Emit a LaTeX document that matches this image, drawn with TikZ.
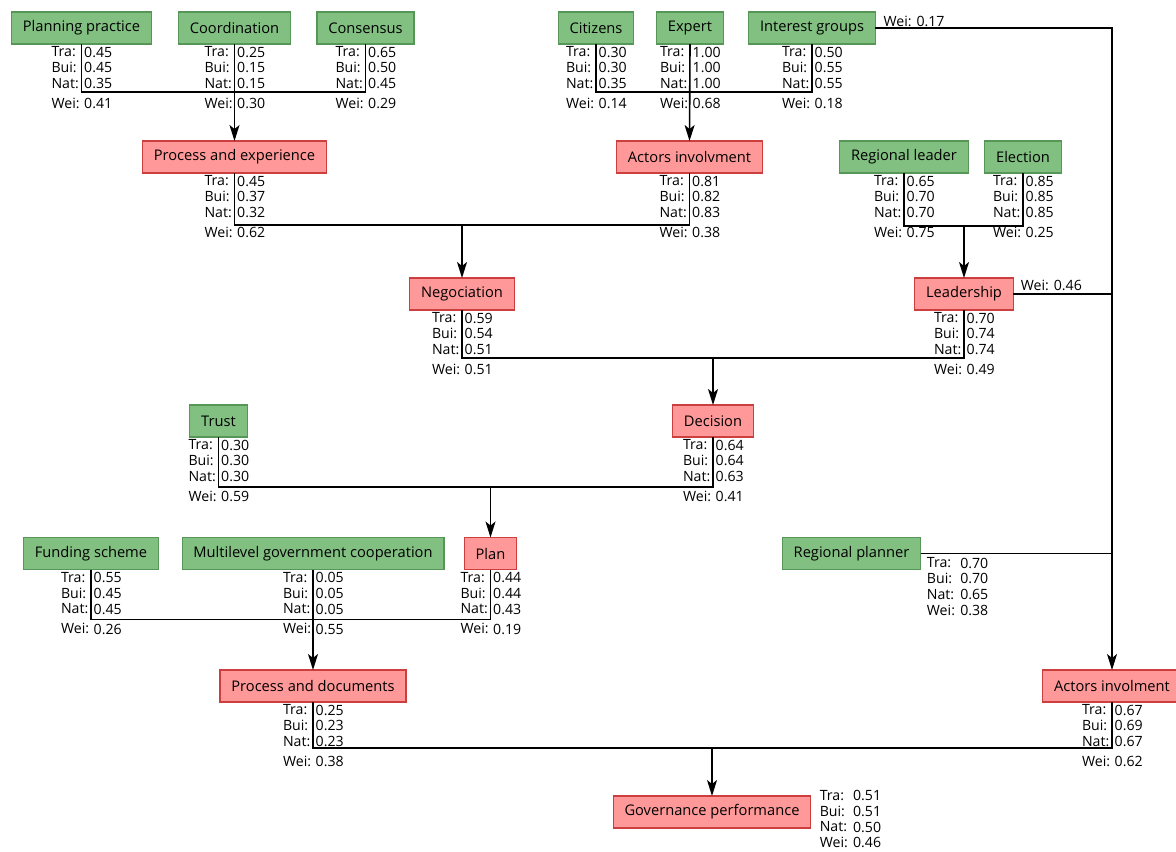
\documentclass[tikz,border=0pt]{standalone}
\usepackage{fontspec}
\setmainfont{Open Sans}
\usepackage{tikz}
\usetikzlibrary{arrows.meta,positioning,calc}
\definecolor{factfill}{RGB}{130,192,130}
\definecolor{factdraw}{RGB}{86,150,86}
\definecolor{resfill}{RGB}{255,152,152}
\definecolor{resdraw}{RGB}{205,62,62}

% score columns under a box: labels left of the connector, values right of it
\newcommand{\scores}[5]{%
  \node[num,anchor=north east] (#1-lb) at ([xshift=-1.2pt,yshift=-1.9pt]#1.south) {Tra:\\Bui:\\Nat:\\[3.2pt]Wei:};
  \node[num,anchor=north west] (#1-vl) at ([xshift=1.8pt,yshift=-1.9pt]#1.south) {#2\\#3\\#4\\[3.2pt]#5};}
% score columns beside a box
\newcommand{\sidescores}[6]{%
  \node[num,anchor=north west] (#1-lb) at #2 {Tra:\\Bui:\\Nat:\\Wei:};
  \node[num,anchor=north west] (#1-vl) at ([xshift=25pt]#1-lb.north west) {#3\\#4\\#5\\#6};}

\begin{document}
\begin{tikzpicture}[x=0.75pt,y=-0.75pt,
    fact/.style={rectangle,draw=factdraw,fill=factfill,line width=0.9pt,
      minimum height=24pt,inner xsep=8.5pt,outer sep=0pt,font=\fontsize{11}{13}\selectfont},
    res/.style={fact,draw=resdraw,fill=resfill},
    num/.style={inner sep=0pt,align=left,font=\fontsize{10.6}{11.8}\selectfont},
    wei/.style={inner sep=1pt,font=\fontsize{10.6}{11.8}\selectfont},
    a/.style={-{Stealth[length=12pt,width=7.5pt,inset=3pt]},line width=1.2pt},
    link/.style={line width=0.8pt}]
  \useasboundingbox (0,0) rectangle (1176,851);
  % inputs, first row
  \node[fact] (pp) at (81.5,28) {Planning practice};
  \node[fact] (co) at (234.5,28) {Coordination};
  \node[fact] (cs) at (365.5,28) {Consensus};
  \node[fact] (ci) at (596,28) {Citizens};
  \node[fact] (ex) at (690,28) {Expert};
  \node[fact] (ig) at (812,28) {Interest groups};
  % second row
  \node[res] (pe) at (234.5,157) {Process and experience};
  \node[res] (ai) at (689.5,157) {Actors involvment};
  \node[fact] (rl) at (904,157) {Regional leader};
  \node[fact] (el) at (1023,157) {Election};
  % third and fourth rows
  \node[res] (ne) at (462,294) {Negociation};
  \node[res] (le) at (964,294) {Leadership};
  \node[fact] (tr) at (218.5,421) {Trust};
  \node[res] (de) at (713,421) {Decision};
  % fifth row
  \node[fact] (fs) at (91,553.5) {Funding scheme};
  \node[fact] (mg) at (313,553.5) {Multilevel government cooperation};
  \node[res] (pl) at (490.5,553.5) {Plan};
  \node[fact] (rp) at (851.5,553.5) {Regional planner};
  % outputs
  \node[res] (pd) at (313,686) {Process and documents};
  \node[res] (ai2) at (1112,686) {Actors involment};
  \node[res] (gp) at (712,812) {Governance performance};

  \scores{pp}{0.45}{0.45}{0.35}{0.41}
  \scores{co}{0.25}{0.15}{0.15}{0.30}
  \scores{cs}{0.65}{0.50}{0.45}{0.29}
  \scores{ci}{0.30}{0.30}{0.35}{0.14}
  \scores{ex}{1.00}{1.00}{1.00}{0.68}
  \scores{ig}{0.50}{0.55}{0.55}{0.18}
  \scores{pe}{0.45}{0.37}{0.32}{0.62}
  \scores{ai}{0.81}{0.82}{0.83}{0.38}
  \scores{rl}{0.65}{0.70}{0.70}{0.75}
  \scores{el}{0.85}{0.85}{0.85}{0.25}
  \scores{ne}{0.59}{0.54}{0.51}{0.51}
  \scores{le}{0.70}{0.74}{0.74}{0.49}
  \scores{tr}{0.30}{0.30}{0.30}{0.59}
  \scores{de}{0.64}{0.64}{0.63}{0.41}
  \scores{fs}{0.55}{0.45}{0.45}{0.26}
  \scores{mg}{0.05}{0.05}{0.05}{0.55}
  \scores{pl}{0.44}{0.44}{0.43}{0.19}
  \scores{pd}{0.25}{0.23}{0.23}{0.38}
  \scores{ai2}{0.67}{0.69}{0.67}{0.62}
  \sidescores{rp}{([xshift=4.5pt,yshift=9pt]rp.south east)}{0.70}{0.70}{0.65}{0.38}
  \sidescores{gp}{([xshift=6.5pt,yshift=4.5pt]gp.north east)}{0.51}{0.51}{0.50}{0.46}
  \node[wei,anchor=south west] (ig-w) at ([xshift=5pt]ig.east) {Wei: 0.17};
  \node[wei,anchor=south west] (le-w) at ([xshift=4.5pt,yshift=1pt]le.east) {Wei: 0.46};

  % merges
  \draw[link] (pp.south) -- ++(0,48) -| (cs.south);
  \draw[a] (co.south) -- (pe.north);
  \draw[link] (ci.south) -- ++(0,48) -| (ig.south);
  \draw[a] (ex.south) -- (ai.north);
  \draw[link] (pe.south) -- ++(0,52) coordinate (j1) -| (ai.south);
  \draw[a] (j1 -| ne.north) -- (ne.north);
  \draw[link] (rl.south) -- ++(0,53) coordinate (j2) -| (el.south);
  \draw[a] (j2 -| le.north) -- (le.north);
  \draw[link] (ne.south) -- ++(0,48) coordinate (j3) -| (le.south);
  \draw[a] (j3 -| de.north) -- (de.north);
  \draw[link] (tr.south) -- ++(0,50) coordinate (j4) -| (de.south);
  \draw[a] (j4 -| pl.north) -- (pl.north);
  \draw[link] (fs.south) -- ++(0,50) -| (pl.south);
  \draw[a] (mg.south) -- (pd.north);
  \draw[link] (pd.south) -- ++(0,46) coordinate (j6) -| (ai2.south);
  \draw[a] (j6 -| gp.north) -- (gp.north);
  % right trunk
  \draw[a,line width=0.9pt] (ig.east) -| (ai2.north);
  \draw[link] (le.east) -- (le.east -| ai2.north);
  \draw[link] (rp.east) -- (rp.east -| ai2.north);
\end{tikzpicture}
\end{document}
